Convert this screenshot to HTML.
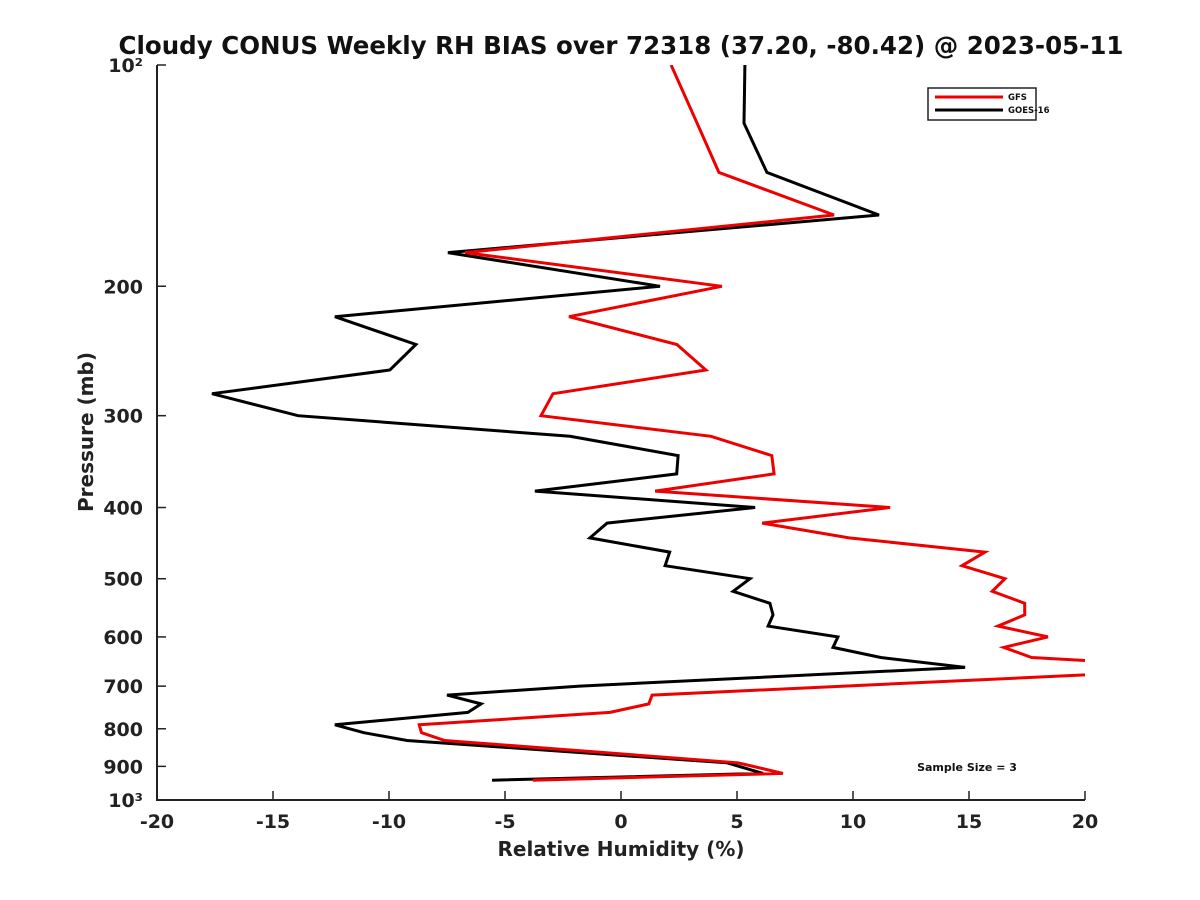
<!DOCTYPE html>
<html><head><meta charset="utf-8"><style>
body{margin:0;background:#fff;}
svg{display:block;font-family:"DejaVu Sans","Liberation Sans",sans-serif;font-weight:bold;}
</style></head><body>
<svg id="chart" width="1200" height="900" viewBox="0 0 1200 900" xmlns="http://www.w3.org/2000/svg">
<defs><clipPath id="plotclip"><rect x="157" y="65" width="928" height="735"/></clipPath></defs>
<rect width="1200" height="900" fill="#fff"/>
<text x="621" y="54" text-anchor="middle" font-size="24.5" fill="#111">Cloudy CONUS Weekly RH BIAS over 72318 (37.20, -80.42) @ 2023-05-11</text>
<g id="axes"></g>
<g id="series" clip-path="url(#plotclip)"></g>
<g>
<rect x="928" y="88" width="108" height="32" fill="#fff" stroke="#222" stroke-width="1.5"/>
<line x1="935" y1="97" x2="1003" y2="97" stroke="#e00" stroke-width="3"/>
<text x="1008" y="100" font-size="8.5" fill="#111">GFS</text>
<line x1="935" y1="110" x2="1003" y2="110" stroke="#000" stroke-width="3"/>
<text x="1008" y="113" font-size="8.5" fill="#111">GOES-16</text>
</g>
<text x="967" y="771" text-anchor="middle" font-size="11" fill="#111">Sample Size = 3</text>
<text x="621" y="856" text-anchor="middle" font-size="20" fill="#222">Relative Humidity (%)</text>
<text transform="translate(93,432) rotate(-90)" text-anchor="middle" font-size="20" fill="#222">Pressure (mb)</text>
</svg>
<script>
const xTicks=[-20,-15,-10,-5,0,5,10,15,20];
const yTicks=[100,200,300,400,500,600,700,800,900,1000];
const yTickLabels=["10²","200","300","400","500","600","700","800","900","10³"];
const gfsPressure=[100,120,140,160,180,200,220,240,260,280,300,320,340,360,380,400,420,440,460,480,500,520,540,560,580,600,620,640,650,670,720,740,760,790,810,830,890,920,940];
const gfsValues=[2.16,3.28,4.22,9.18,-6.72,4.35,-2.24,2.41,3.66,-2.93,-3.45,3.88,6.5,6.6,1.47,11.6,6.08,9.83,15.69,14.7,16.55,16.0,17.4,17.4,16.25,18.4,16.5,17.7,21.5,22.5,1.34,1.2,-0.47,-8.7,-8.6,-7.6,5.04,6.98,-3.8];
const goesPressure=[100,120,140,160,180,200,220,240,260,280,300,320,340,360,380,400,420,440,460,480,500,520,540,560,580,600,620,640,660,700,720,740,760,790,810,830,890,920,940];
const goesValues=[5.34,5.3,6.29,11.12,-7.46,1.68,-12.33,-8.84,-9.96,-17.63,-13.92,-2.2,2.46,2.4,-3.71,5.78,-0.6,-1.34,2.1,1.9,5.56,4.83,6.42,6.55,6.34,9.35,9.14,11.2,14.83,-1.77,-7.5,-6.03,-6.6,-12.33,-11.08,-9.22,4.57,6.12,-5.56];

const NS="http://www.w3.org/2000/svg";
const X0=157,X1=1085,Y0=65,Y1=800;
function xs(v){return X0+(v+20)/40*(X1-X0);}
function ys(p){return Y0+Math.log10(p/100)*(Y1-Y0);}
function mk(tag,attrs,parent){const e=document.createElementNS(NS,tag);for(const k in attrs)e.setAttribute(k,attrs[k]);parent.appendChild(e);return e;}
const axes=document.getElementById('axes');
const ax=mk('path',{d:`M${X0} ${Y0}V${Y1}H${X1}`,fill:'none',stroke:'#222','stroke-width':2},axes);


xTicks.forEach(t=>{
  const x=xs(t);
  const l=mk('line',{x1:x,y1:Y1,x2:x,y2:Y1-9,stroke:'#222','stroke-width':1.5},axes);
  
  
  const tx=mk('text',{x:x,y:828,'text-anchor':'middle','font-size':19,fill:'#222'},axes);
  tx.textContent=String(t);
  
  
});
yTicks.forEach((t,i)=>{
  const y=ys(t);
  const l=mk('line',{x1:X0,y1:y,x2:X0+9,y2:y,stroke:'#222','stroke-width':1.5},axes);
  
  
  const tx=mk('text',{x:143,y:y+7,'text-anchor':'end','font-size':19,fill:'#222'},axes);
  tx.textContent=yTickLabels[i];
  
  
});
const sg=document.getElementById('series');
function line(ps,vs,color,name){
  const pts=ps.map((p,i)=>xs(vs[i]).toFixed(1)+','+ys(p).toFixed(1)).join(' ');
  const pl=mk('polyline',{points:pts,fill:'none',stroke:color,'stroke-width':3,'stroke-linejoin':'miter'},sg);
  
  
}
line(goesPressure,goesValues,'#000','goes16-line');
line(gfsPressure,gfsValues,'#e00','gfs-line');
</script>
</body></html>
